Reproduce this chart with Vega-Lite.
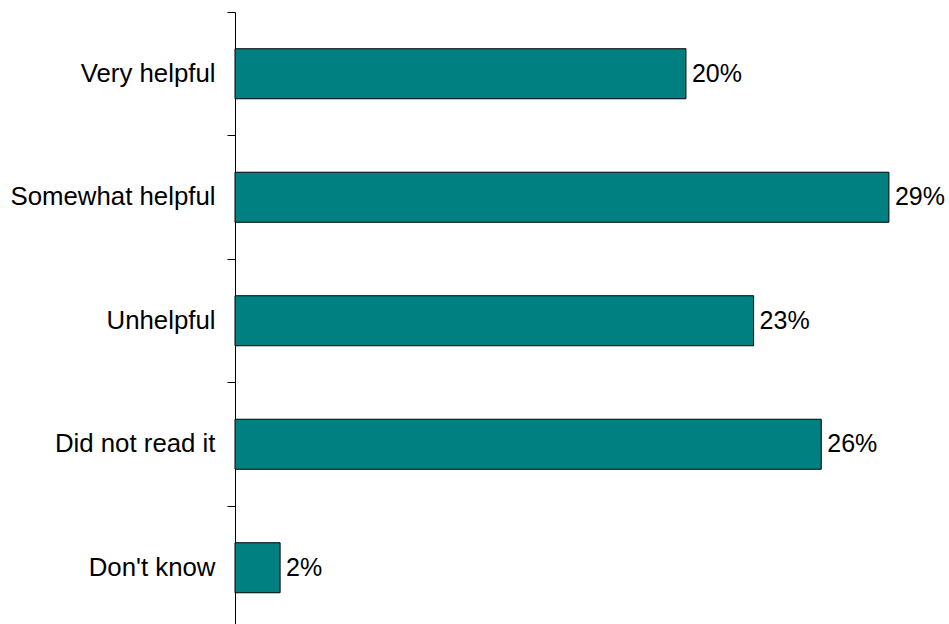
{
  "$schema": "https://vega.github.io/schema/vega-lite/v6.json",
  "width": 699,
  "height": 612,
  "autosize": {"type": "none"},
  "padding": {"left": 235, "top": 12, "right": 15, "bottom": 0},
  "background": "white",
  "config": {"view": {"stroke": null}, "font": "Liberation Sans"},
  "data": {
    "values": [
      {"category": "Very helpful", "value": 0.20},
      {"category": "Somewhat helpful", "value": 0.29},
      {"category": "Unhelpful", "value": 0.23},
      {"category": "Did not read it", "value": 0.26},
      {"category": "Don't know", "value": 0.02}
    ]
  },
  "encoding": {
    "y": {
      "field": "category",
      "type": "nominal",
      "sort": null,
      "scale": {"paddingInner": 0, "paddingOuter": 0, "range": [0, 617.5]},
      "axis": {
        "title": null,
        "bandPosition": 0,
        "domainColor": "black",
        "domainWidth": 1,
        "tickColor": "black",
        "tickSize": 8,
        "tickWidth": 1,
        "labelPadding": 12,
        "labelFontSize": 25.8,
        "labelColor": "black",
        "labelFont": "Liberation Sans",
        "labelLimit": 300,
        "grid": false
      }
    },
    "x": {
      "field": "value",
      "type": "quantitative",
      "scale": {"domain": [0, 0.31], "nice": false},
      "axis": null
    }
  },
  "layer": [
    {
      "mark": {"type": "bar", "color": "#008080", "stroke": "black", "strokeWidth": 1, "height": {"band": 0.405}}
    },
    {
      "mark": {"type": "text", "align": "left", "baseline": "middle", "dx": 6, "fontSize": 25, "font": "Liberation Sans", "color": "black"},
      "encoding": {"text": {"field": "value", "type": "quantitative", "format": ".0%"}}
    }
  ]
}
